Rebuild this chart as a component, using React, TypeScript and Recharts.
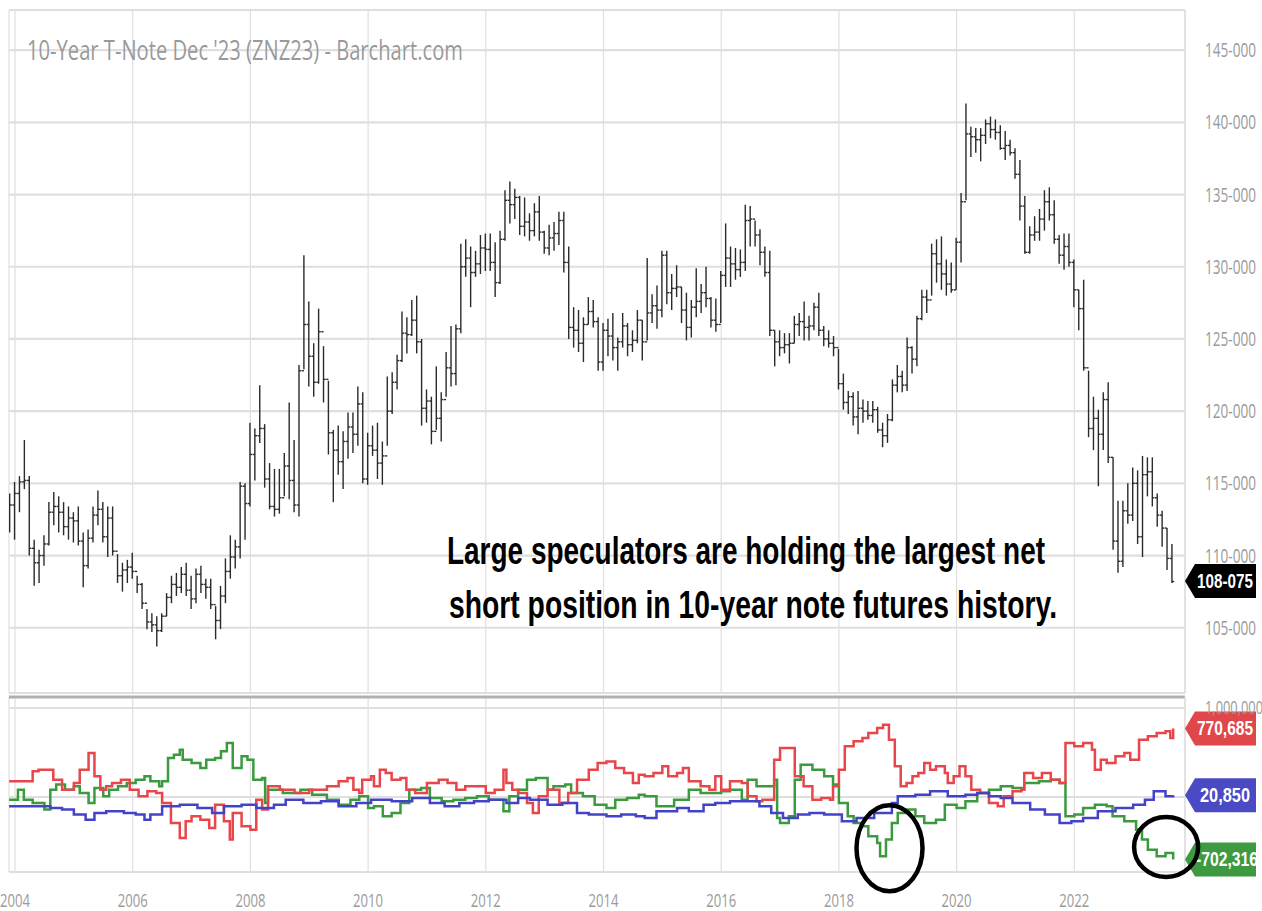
import {
  ComposedChart,
  LineChart,
  Bar,
  Line,
  XAxis,
  YAxis,
  CartesianGrid,
  ReferenceDot,
  ReferenceLine,
} from 'recharts'

// monthly bars, first one is Dec 2003
const firstYear = 2003
const firstMonth = 11
const firstOpen = 112.4

const highs = [
  114.3,
  115.1, 115.5, 118.0, 115.5, 111.1, 110.4, 111.4, 113.7, 114.4, 114.1, 113.7, 113.4,
  113.0, 113.4, 111.6, 111.8, 113.4, 114.5, 113.7, 113.4, 113.4, 110.1, 109.5, 109.7,
  110.2, 108.6, 108.1, 106.3, 106.0, 105.8, 106.0, 107.4, 108.6, 108.8, 109.2, 109.5,
  108.6, 109.1, 109.3, 108.4, 108.4, 106.5, 107.9, 109.8, 111.4, 111.1, 115.1, 115.0,
  119.2, 118.8, 121.8, 119.1, 116.4, 116.0, 116.0, 117.1, 120.6, 118.0, 123.2, 130.8,
  127.6, 124.7, 127.1, 124.5, 122.1, 118.7, 119.0, 118.6, 119.9, 119.9, 121.7, 121.3,
  118.5, 119.0, 119.2, 117.9, 122.4, 122.7, 123.9, 126.9, 126.5, 127.7, 128.0, 125.0,
  121.5, 121.0, 123.1, 121.3, 124.1, 125.9, 126.0, 131.6, 131.9, 131.4, 131.1, 132.2,
  132.3, 132.3, 131.7, 132.5, 135.3, 135.9, 135.4, 134.9, 134.8, 133.7, 134.4, 134.9,
  132.5, 132.9, 133.1, 133.8, 133.8, 131.4, 127.2, 127.0, 126.5, 127.9, 127.7, 126.5,
  126.1, 126.4, 126.8, 125.1, 126.8, 126.1, 125.6, 127.0, 126.3, 130.6, 128.1, 128.7,
  131.1, 131.1, 129.5, 130.1, 128.6, 128.2, 127.7, 129.9, 128.8, 130.0, 127.9, 127.8,
  129.7, 133.0, 131.4, 131.3, 131.2, 134.3, 134.2, 133.2, 132.6, 131.4, 131.1, 125.6,
  125.6, 125.4, 125.4, 126.6, 126.8, 127.6, 126.6, 127.5, 128.2, 125.9, 125.6, 125.2,
  124.3, 122.6, 121.4, 121.3, 121.4, 120.8, 120.7, 120.7, 120.3, 119.2, 119.8, 122.2,
  123.2, 122.8, 125.1, 124.5, 126.6, 128.4, 128.4, 131.6, 131.9, 132.1, 130.5, 130.3,
  132.0, 135.1, 141.3, 139.7, 139.6, 139.6, 140.2, 140.4, 140.2, 139.8, 139.4, 138.8,
  138.2, 137.4, 134.9, 132.8, 133.5, 134.0, 135.3, 135.5, 134.6, 132.2, 132.3, 132.3,
  130.5, 128.4, 129.1, 122.8, 121.0, 120.1, 121.3, 122.0, 116.8, 113.8, 113.8, 115.0,
  116.1, 115.9, 116.9, 116.8, 116.8, 114.3, 113.1, 111.9, 110.8,
]

const lows = [
  111.6,
  111.1, 113.0, 114.6, 110.0, 107.9, 108.1, 109.3, 110.7, 112.1, 111.6, 111.4, 111.1,
  110.9, 110.7, 107.8, 109.1, 110.9, 112.1, 110.9, 109.9, 110.0, 108.1, 107.5, 108.1,
  108.4, 107.4, 106.3, 104.9, 104.7, 103.7, 104.7, 105.8, 106.7, 107.2, 107.4, 107.2,
  106.3, 106.7, 107.4, 107.0, 106.3, 104.2, 104.9, 106.7, 108.4, 109.1, 109.8, 111.1,
  113.4, 115.2, 117.8, 114.7, 113.2, 112.7, 112.9, 114.1, 113.9, 113.0, 112.7, 122.9,
  121.7, 121.0, 121.9, 120.6, 117.0, 113.7, 115.6, 114.6, 116.7, 117.1, 117.6, 115.0,
  114.9, 116.9, 115.3, 114.9, 117.6, 119.8, 121.5, 123.4, 124.0, 125.2, 124.0, 119.0,
  119.2, 117.7, 118.7, 117.9, 121.0, 121.7, 121.8, 125.4, 129.3, 127.2, 129.3, 129.5,
  129.7, 129.7, 127.9, 128.8, 131.8, 133.0, 133.3, 132.2, 132.1, 131.8, 132.1, 131.8,
  130.9, 130.8, 131.1, 131.5, 129.6, 125.0, 124.4, 124.1, 123.4, 126.0, 125.8, 122.8,
  122.8, 123.8, 123.5, 122.8, 124.4, 123.8, 124.1, 124.7, 123.5, 124.9, 126.1, 125.7,
  126.5, 127.4, 127.0, 127.9, 126.1, 124.9, 125.1, 126.5, 126.8, 127.2, 125.8, 125.5,
  126.1, 128.6, 128.6, 129.1, 129.3, 129.7, 131.4, 131.4, 130.1, 129.3, 125.2, 123.1,
  123.8, 124.0, 123.3, 124.7, 125.2, 124.9, 124.9, 125.6, 125.2, 124.5, 124.4, 123.8,
  121.5, 120.1, 119.8, 119.0, 118.4, 119.2, 119.4, 119.2, 118.5, 117.5, 117.8, 119.3,
  121.3, 121.3, 121.4, 122.6, 123.1, 126.3, 126.8, 128.0, 128.9, 128.4, 128.0, 128.2,
  128.4, 130.3, 134.6, 137.6, 137.9, 137.3, 138.5, 138.9, 138.8, 138.1, 137.4, 137.7,
  136.1, 133.2, 130.9, 130.9, 131.8, 131.8, 132.5, 133.2, 131.6, 130.2, 129.8, 130.0,
  127.2, 125.6, 122.8, 118.2, 117.3, 114.8, 117.3, 116.4, 110.4, 108.8, 109.2, 112.2,
  112.4, 110.8, 109.9, 114.1, 113.4, 112.0, 110.6, 109.0, 108.1,
]

const closes = [
  113.5,
  114.3, 115.1, 115.2, 110.5, 109.5, 110.0, 110.8, 113.0, 113.4, 113.0, 112.0, 112.6,
  112.4, 111.0, 109.3, 111.2, 112.8, 113.2, 111.3, 112.6, 110.3, 108.6, 109.0, 109.2,
  108.9, 108.0, 106.7, 105.4, 105.2, 104.8, 105.8, 107.1, 108.0, 107.8, 108.7, 107.6,
  107.0, 108.7, 108.0, 107.8, 106.6, 105.5, 107.2, 108.9, 109.9, 110.6, 114.8, 113.6,
  117.0, 118.3, 118.8, 115.3, 113.4, 113.2, 114.0, 116.2, 115.2, 113.5, 122.8, 126.0,
  123.8, 122.0, 125.5, 122.2, 118.5, 117.3, 116.5, 117.9, 118.9, 118.4, 120.5, 115.3,
  117.6, 117.3, 116.4, 116.9, 120.0, 122.0, 123.5, 125.4, 125.3, 126.3, 124.8, 120.2,
  120.7, 118.6, 119.5, 120.8, 123.0, 122.6, 125.7, 130.0, 130.6, 129.6, 130.2, 131.3,
  131.2, 130.3, 128.9, 131.9, 134.6, 134.3, 134.8, 132.8, 133.1, 132.5, 133.8, 132.4,
  131.3, 132.0, 132.3, 133.2, 130.3, 125.8, 125.6, 124.7, 126.0, 126.9, 126.2, 123.4,
  125.6, 125.2, 124.4, 124.8, 125.9, 124.6, 124.9, 126.3, 124.8, 126.8, 127.3, 127.0,
  130.8, 128.2, 128.5, 128.6, 127.0, 125.8, 127.2, 127.6, 128.2, 127.8, 126.3, 126.0,
  129.4, 130.6, 130.2, 129.8, 130.3, 133.2, 133.3, 132.2, 131.0, 129.6, 125.6, 124.8,
  124.4, 124.6, 124.7, 126.0, 126.2, 125.8, 125.9, 127.2, 125.6, 125.0, 124.7, 124.4,
  121.9, 120.6, 121.0, 119.6, 120.2, 120.0, 119.7, 120.1, 118.7, 118.3, 119.4, 121.8,
  122.4, 121.8, 124.4, 123.6, 126.4, 127.9, 127.7, 130.9, 130.2, 129.5, 128.8, 128.4,
  131.7, 134.5, 139.2, 139.0, 138.8, 139.1, 139.9, 139.5, 139.3, 138.2, 138.4, 137.9,
  136.4, 134.2, 131.0, 132.2, 132.4, 133.3, 134.5, 133.6, 131.9, 130.8, 131.4, 130.3,
  128.4, 127.1, 123.0, 118.8, 119.5, 118.4, 120.8, 116.8, 111.0, 109.6, 113.1, 112.8,
  115.0, 111.3, 115.6, 115.8, 114.0, 112.8, 111.9, 109.8, 108.2,
]

const yearTicks = [2004, 2006, 2008, 2010, 2012, 2014, 2016, 2018, 2020, 2022]
const priceTicks = [105, 110, 115, 120, 125, 130, 135, 140, 145]
const cotTicks = [0, 1000]

const lastPrice = 108.234
const lastPriceLabel = '108-075'

// net positions, thousands of contracts: [decimal year, value]
const redNet: [number, number][] = [
  [2003.9, 176], [2004.3, 288], [2004.4, 307], [2004.65, 195], [2004.8, 82], [2005.0, 157],
  [2005.1, 307], [2005.25, 494], [2005.35, 232], [2005.45, 82], [2005.55, 120], [2005.65, 157],
  [2005.8, 195], [2005.95, 82], [2006.1, 7], [2006.25, 64], [2006.4, 45], [2006.5, -67],
  [2006.65, -292], [2006.8, -461], [2006.9, -273], [2007.0, -217], [2007.15, -255], [2007.3, -348],
  [2007.4, -86], [2007.55, -273], [2007.65, -479], [2007.7, -180], [2007.85, -330], [2008.0, -367],
  [2008.1, -30], [2008.2, -142], [2008.3, 120], [2008.5, 82], [2008.75, 45], [2009.0, 82],
  [2009.3, 120], [2009.5, 176], [2009.65, 213], [2009.75, 82], [2009.85, 45], [2009.9, 195],
  [2010.05, 232], [2010.1, 120], [2010.2, 307], [2010.3, 270], [2010.4, 195], [2010.55, 213],
  [2010.65, 82], [2010.8, 45], [2011.0, 157], [2011.2, 195], [2011.35, 157], [2011.5, 82],
  [2011.65, 120], [2012.0, 45], [2012.15, 82], [2012.3, 307], [2012.35, 157], [2012.45, 82],
  [2012.55, 45], [2012.7, -67], [2012.8, -180], [2012.9, 7], [2013.05, 82], [2013.25, -67],
  [2013.4, 45], [2013.55, 195], [2013.75, 307], [2013.9, 382], [2014.05, 400], [2014.2, 326],
  [2014.35, 270], [2014.5, 157], [2014.6, 251], [2014.7, 232], [2014.85, 270], [2015.0, 345],
  [2015.1, 232], [2015.25, 270], [2015.35, 326], [2015.45, 176], [2015.65, 120], [2015.8, 82],
  [2015.9, 232], [2016.0, 82], [2016.15, 176], [2016.35, 157], [2016.45, 7], [2016.6, -49],
  [2016.7, -30], [2016.9, 419], [2017.0, 550], [2017.25, 232], [2017.4, 120], [2017.55, -30],
  [2017.7, -11], [2017.85, -30], [2017.9, 120], [2018.0, 307], [2018.1, 569], [2018.25, 625],
  [2018.4, 663], [2018.5, 719], [2018.65, 775], [2018.75, 813], [2018.85, 644], [2018.95, 345],
  [2019.05, 120], [2019.15, 157], [2019.25, 232], [2019.35, 270], [2019.45, 382], [2019.55, 307],
  [2019.65, 345], [2019.8, 270], [2019.85, 157], [2019.95, 232], [2020.05, 345], [2020.15, 232],
  [2020.25, 82], [2020.4, 45], [2020.55, -67], [2020.7, -105], [2020.8, 7], [2020.95, 64],
  [2021.1, 82], [2021.15, 270], [2021.3, 213], [2021.45, 270], [2021.6, 195], [2021.75, 157],
  [2021.85, 607], [2022.0, 569], [2022.15, 607], [2022.3, 532], [2022.35, 307], [2022.45, 419],
  [2022.55, 382], [2022.7, 457], [2022.85, 494], [2022.95, 419], [2023.1, 644], [2023.25, 682],
  [2023.4, 719], [2023.55, 738], [2023.63, 663], [2023.68, 770.685],
]

const greenNet: [number, number][] = [
  [2003.9, -30], [2004.05, 82], [2004.15, -30], [2004.3, -67], [2004.5, -142], [2004.6, 82],
  [2004.7, 139], [2004.85, 82], [2005.0, 120], [2005.1, 45], [2005.25, -67], [2005.35, 101],
  [2005.5, 7], [2005.6, 82], [2005.75, 120], [2005.9, 157], [2006.05, 195], [2006.2, 232],
  [2006.3, 176], [2006.45, 120], [2006.5, 176], [2006.6, 438], [2006.7, 476], [2006.8, 532],
  [2006.85, 419], [2007.0, 382], [2007.15, 326], [2007.25, 419], [2007.4, 438], [2007.5, 513],
  [2007.6, 607], [2007.7, 326], [2007.85, 457], [2007.95, 419], [2008.05, 195], [2008.2, 213],
  [2008.25, -67], [2008.3, 82], [2008.55, 45], [2008.85, 82], [2009.05, 26], [2009.3, -30],
  [2009.5, -86], [2009.7, -30], [2009.85, 7], [2010.0, -124], [2010.1, -105], [2010.25, -217],
  [2010.4, -180], [2010.55, -67], [2010.7, 82], [2010.9, 101], [2011.05, -11], [2011.25, -49],
  [2011.45, -30], [2011.65, -11], [2011.85, 7], [2012.05, -30], [2012.3, -161], [2012.4, 7],
  [2012.55, 82], [2012.7, 195], [2012.85, 213], [2013.05, 82], [2013.15, 120], [2013.35, 139],
  [2013.45, 45], [2013.65, 7], [2013.85, -86], [2014.05, -124], [2014.2, -30], [2014.4, -11],
  [2014.6, 26], [2014.7, 7], [2014.9, -105], [2015.2, -30], [2015.45, 82], [2015.65, 45],
  [2016.0, 64], [2016.15, 82], [2016.35, -30], [2016.45, 195], [2016.6, 120], [2016.9, 195],
  [2016.95, -236], [2017.0, -292], [2017.15, -217], [2017.25, 195], [2017.35, 363], [2017.55, 307],
  [2017.75, 232], [2017.9, 139], [2018.0, -67], [2018.15, -217], [2018.25, -292], [2018.4, -330],
  [2018.5, -442], [2018.65, -517], [2018.7, -667], [2018.8, -479], [2018.9, -292], [2019.0, -180],
  [2019.15, -142], [2019.3, -217], [2019.45, -292], [2019.65, -255], [2019.8, -86], [2020.0, -124],
  [2020.15, -49], [2020.35, 45], [2020.55, 82], [2020.75, 120], [2020.95, 101], [2021.15, 157],
  [2021.4, 176], [2021.6, 195], [2021.75, 157], [2021.85, -217], [2022.0, -198], [2022.15, -124],
  [2022.35, -86], [2022.55, -105], [2022.65, -217], [2022.85, -273], [2023.05, -367], [2023.15, -479],
  [2023.25, -592], [2023.4, -667], [2023.55, -629], [2023.68, -702.316],
]

const blueNet: [number, number][] = [
  [2003.9, -105], [2004.6, -124], [2004.8, -142], [2005.0, -198], [2005.2, -255], [2005.35, -180],
  [2005.55, -161], [2005.85, -180], [2006.05, -198], [2006.2, -255], [2006.3, -198], [2006.5, -105],
  [2006.8, -86], [2007.1, -124], [2007.35, -180], [2007.55, -105], [2007.85, -86], [2008.1, -124],
  [2008.4, -86], [2008.6, -30], [2008.9, -67], [2009.2, -49], [2009.5, -105], [2009.8, -67],
  [2010.05, -30], [2010.4, -49], [2010.75, -11], [2011.05, -67], [2011.3, -105], [2011.55, -67],
  [2011.8, -49], [2012.05, -30], [2012.35, -67], [2012.55, -11], [2012.75, -30], [2013.05, -86],
  [2013.3, -67], [2013.55, -180], [2013.75, -198], [2014.05, -217], [2014.3, -198], [2014.55, -217],
  [2014.7, -236], [2014.9, -161], [2015.25, -124], [2015.45, -161], [2015.7, -86], [2015.9, -67],
  [2016.15, -49], [2016.45, -49], [2016.65, -105], [2016.85, -180], [2017.05, -236], [2017.3, -198],
  [2017.5, -180], [2017.75, -198], [2018.05, -273], [2018.3, -236], [2018.6, -180], [2018.9, -67],
  [2019.0, 7], [2019.3, 26], [2019.55, 64], [2019.85, 7], [2020.15, 26], [2020.35, 45],
  [2020.55, 7], [2020.75, -11], [2020.95, -67], [2021.25, -142], [2021.5, -198], [2021.75, -292],
  [2021.95, -273], [2022.15, -236], [2022.4, -161], [2022.7, -124], [2023.0, -86], [2023.2, -30],
  [2023.35, 64], [2023.55, 7], [2023.68, 20.85],
]

const redLabel = '770,685'
const blueLabel = '20,850'
const greenLabel = '-702,316'

// circled spots on the green line
const circles: [number, number, number, number][] = [
  [2018.86, -575, 33, 43],
  [2023.56, -562, 32, 30],
]

const timeDomain = [2003.898, 2023.881]
const priceDomain = [100.48, 147.78]
const cotDomain = [-843, 1123.6]

const gray = '#9a9a9a'
const gridColor = '#dfdfdf'

const bars = highs.map((high, i) => ({
  t: firstYear + (firstMonth + i) / 12,
  high,
  low: lows[i],
  close: closes[i],
  open: i === 0 ? firstOpen : closes[i - 1],
}))

const toRows = (pts: [number, number][]) => pts.map(([t, v]) => ({ t, v }))

function OhlcShape(props: any) {
  const { x, y, width, height, payload } = props
  if (payload == null || height == null) return null
  const top = Math.min(y, y + height)
  const h = Math.abs(height)
  const cx = x + width / 2
  const span = payload.high - payload.low || 1
  const at = (v: number) => top + ((payload.high - v) / span) * h
  return (
    <g stroke="#2a2a2a" strokeWidth={1.4}>
      <line x1={cx} x2={cx} y1={top} y2={top + h} />
      <line x1={cx - 2.2} x2={cx} y1={at(payload.open)} y2={at(payload.open)} />
      <line x1={cx} x2={cx + 2.2} y1={at(payload.close)} y2={at(payload.close)} />
    </g>
  )
}

function PriceTick(props: any) {
  const { x, y, payload } = props
  return (
    <text x={x + 12} y={y + 7} fill={gray} fontSize={20} fontFamily="'Open Sans', sans-serif" textLength={51} lengthAdjust="spacingAndGlyphs">
      {`${payload.value}-000`}
    </text>
  )
}

function CotTick(props: any) {
  const { x, y, payload } = props
  if (payload.value === 0) return null
  return (
    <text x={x + 12} y={y + 6} fill={gray} fontSize={19} fontFamily="'Open Sans', sans-serif" textLength={58} lengthAdjust="spacingAndGlyphs">
      {(payload.value * 1000).toLocaleString('en-US')}
    </text>
  )
}

function YearTick(props: any) {
  const { x, y, payload } = props
  return (
    <text x={x} y={y + 33} textAnchor="middle" fill={gray} fontSize={18} fontFamily="'Open Sans', sans-serif" textLength={30} lengthAdjust="spacingAndGlyphs">
      {payload.value}
    </text>
  )
}

const makeTag = (text: string, fill: string, textWidth: number, textShift: number) =>
  function Tag(props: any) {
    const { cx, cy } = props
    const half = 17
    return (
      <g>
        <polygon
          points={`${cx},${cy} ${cx + 10},${cy - half} ${cx + 71},${cy - half} ${cx + 71},${cy + half} ${cx + 10},${cy + half}`}
          fill={fill}
        />
        <text
          x={cx + textShift}
          y={cy + 7}
          textAnchor="middle"
          fill="#fff"
          fontWeight="bold"
          fontSize={20}
          fontFamily="'Liberation Sans', Arial, sans-serif"
          textLength={textWidth}
          lengthAdjust="spacingAndGlyphs"
        >
          {text}
        </text>
      </g>
    )
  }

const makeRing = (rx: number, ry: number) =>
  function Ring(props: any) {
    return <ellipse cx={props.cx} cy={props.cy} rx={rx} ry={ry} fill="none" stroke="#000" strokeWidth={4.5} />
  }

export default function App() {
  return (
    <div style={{ position: 'absolute', left: 0, top: 0, width: 1262, height: 911, background: '#fff', overflow: 'hidden' }}>
      <div style={{ position: 'absolute', left: 0, top: 0 }}>
        <ComposedChart width={1262} height={697} data={bars} margin={{ top: 10, right: 0, left: 9, bottom: 4 }}>
          <CartesianGrid horizontal={false} stroke={gridColor} strokeWidth={1.2} />
          <CartesianGrid vertical={false} stroke={gridColor} strokeWidth={2.2} />
          <XAxis dataKey="t" type="number" domain={timeDomain} ticks={yearTicks} interval={0} allowDataOverflow hide />
          <YAxis
            orientation="right"
            width={77}
            domain={priceDomain}
            ticks={priceTicks}
            interval={0}
            allowDataOverflow
            axisLine={{ stroke: gridColor, strokeWidth: 1.5 }}
            tickLine={false}
            tick={<PriceTick />}
          />
          <Bar dataKey={(d: any) => [d.low, d.high]} barSize={4} shape={<OhlcShape />} isAnimationActive={false} />
          <ReferenceDot x={timeDomain[1]} y={lastPrice} shape={makeTag(lastPriceLabel, '#000', 56, 40)} ifOverflow="visible" />
        </ComposedChart>
      </div>
      <div style={{ position: 'absolute', left: 0, top: 690 }}>
        <LineChart width={1262} height={221} margin={{ top: 7, right: 0, left: 9, bottom: 0 }}>
          <CartesianGrid horizontal={false} stroke={gridColor} strokeWidth={1.2} />
          <CartesianGrid vertical={false} stroke={gridColor} strokeWidth={2} />
          <XAxis
            dataKey="t"
            type="number"
            domain={timeDomain}
            ticks={yearTicks}
            interval={0}
            allowDataOverflow
            height={39}
            axisLine={{ stroke: gridColor, strokeWidth: 2 }}
            tickLine={false}
            tickSize={0}
            tick={<YearTick />}
          />
          <YAxis
            orientation="right"
            width={77}
            domain={cotDomain}
            ticks={cotTicks}
            interval={0}
            allowDataOverflow
            axisLine={{ stroke: gridColor, strokeWidth: 1.5 }}
            tickLine={false}
            tick={<CotTick />}
          />
          <ReferenceLine y={cotDomain[1]} stroke="#b0b0b0" strokeWidth={3} />
          <Line data={toRows(greenNet)} dataKey="v" type="stepAfter" stroke="#3b9a3e" strokeWidth={2.5} dot={false} isAnimationActive={false} />
          <Line data={toRows(redNet)} dataKey="v" type="stepAfter" stroke="#e8464a" strokeWidth={2.5} dot={false} isAnimationActive={false} />
          <Line data={toRows(blueNet)} dataKey="v" type="stepAfter" stroke="#4343c8" strokeWidth={2.5} dot={false} isAnimationActive={false} />
          <ReferenceDot x={timeDomain[1]} y={770.685} shape={makeTag(redLabel, '#e0474b', 56, 40)} ifOverflow="visible" />
          <ReferenceDot x={timeDomain[1]} y={20.85} shape={makeTag(blueLabel, '#4a4ac4', 50, 40)} ifOverflow="visible" />
          <ReferenceDot x={timeDomain[1]} y={-702.316} shape={makeTag(greenLabel, '#3d9a40', 62, 42)} ifOverflow="visible" />
          {circles.map(([t, v, rx, ry], i) => (
            <ReferenceDot key={`ring-${i}`} x={t} y={v} shape={makeRing(rx, ry)} ifOverflow="visible" />
          ))}
        </LineChart>
      </div>
      <svg width={1262} height={911} style={{ position: 'absolute', left: 0, top: 0, pointerEvents: 'none' }}>
        <text x={27} y={60} fill={gray} fontSize={28} fontFamily="'Open Sans', sans-serif" textLength={436} lengthAdjust="spacingAndGlyphs">
          10-Year T-Note Dec '23 (ZNZ23) - Barchart.com
        </text>
        <g fontFamily="'Liberation Sans', Arial, sans-serif" fontWeight="bold" fontSize={39} fill="#000">
          <text x={447} y={564} textLength={598} lengthAdjust="spacingAndGlyphs">
            Large speculators are holding the largest net
          </text>
          <text x={449} y={618} textLength={608} lengthAdjust="spacingAndGlyphs">
            short position in 10-year note futures history.
          </text>
        </g>
      </svg>
    </div>
  )
}
